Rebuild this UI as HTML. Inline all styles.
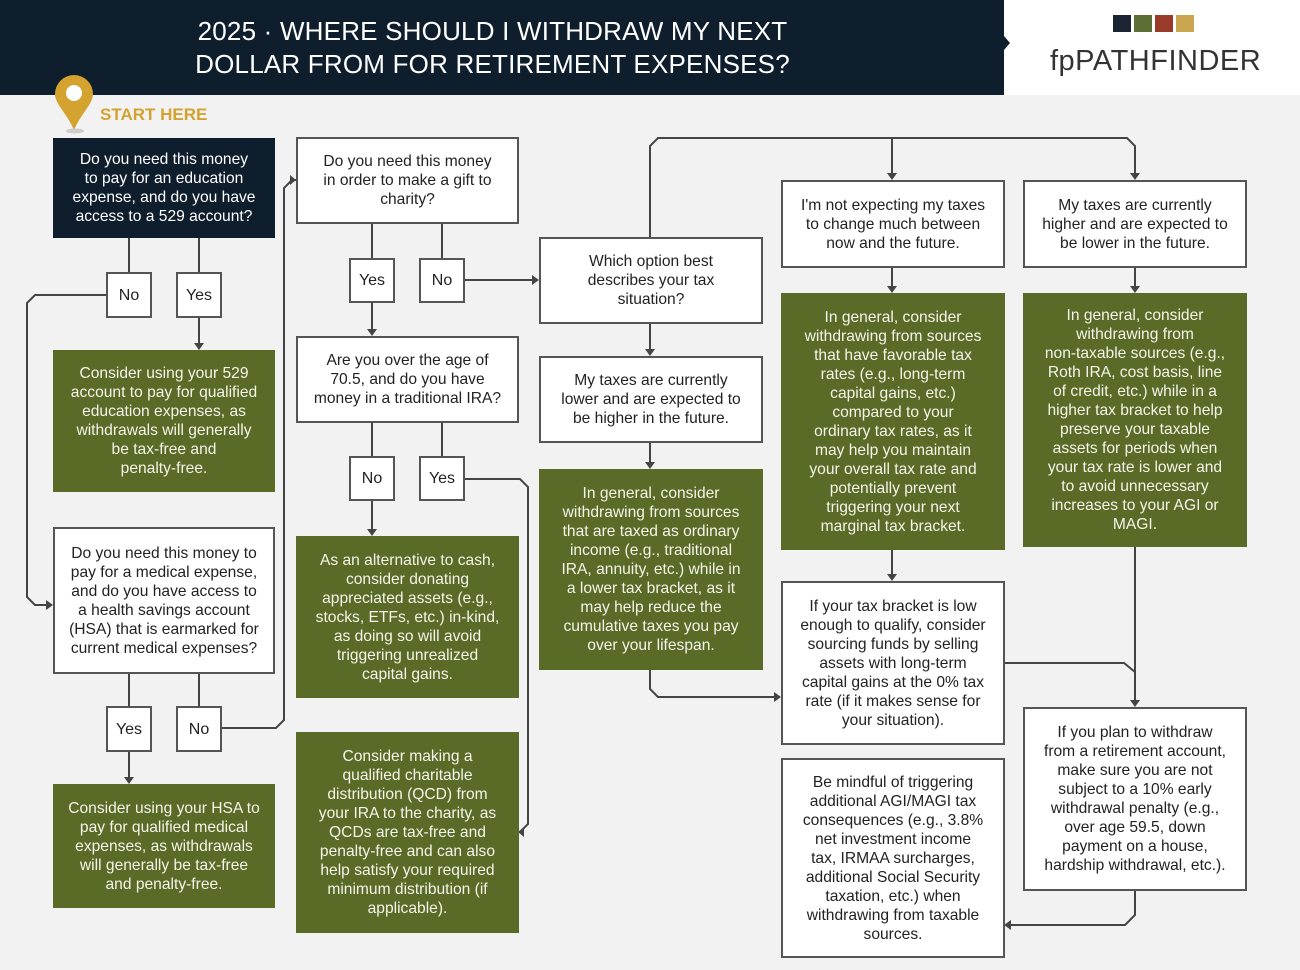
<!DOCTYPE html>
<html><head><meta charset="utf-8"><style>
*{margin:0;padding:0;box-sizing:border-box}
body{width:1300px;height:970px;background:#f2f2f2;position:relative;overflow:hidden;font-family:"Liberation Sans",sans-serif}
.hdr{position:absolute;left:0;top:0;width:1004px;height:95px;background:#0f1e2d}
.title{position:absolute;left:0;top:15px;width:985px;text-align:center;color:#fff;font-size:26px;line-height:33px;font-weight:300;letter-spacing:0.2px}
.logo{position:absolute;left:1004px;top:0;width:296px;height:95px;background:#fff}
.b{position:absolute;display:flex;align-items:center;justify-content:center;text-align:center;font-size:15.6px;line-height:19px;white-space:nowrap}
.w{background:#fff;border:2px solid #555;color:#222}
.g{background:#596b27;color:#f4f4ea}
.d{background:#0f1e2d;color:#fff}
.s{font-size:16px}
</style></head><body>
<div class="hdr"><div class="title">2025 · WHERE SHOULD I WITHDRAW MY NEXT<br>DOLLAR FROM FOR RETIREMENT EXPENSES?</div></div>
<div class="logo">
<div style="position:absolute;left:109px;top:15px;width:18px;height:17px;background:#1a2433"></div>
<div style="position:absolute;left:130px;top:15px;width:18px;height:17px;background:#5c7036"></div>
<div style="position:absolute;left:151px;top:15px;width:18px;height:17px;background:#9a3a2a"></div>
<div style="position:absolute;left:172px;top:15px;width:18px;height:17px;background:#c9a64f"></div>
<div style="position:absolute;left:46px;top:45px;font-size:29px;color:#333;font-weight:300;letter-spacing:0.5px">fpPATHFINDER</div>
</div>
<svg style="position:absolute;left:0;top:0" width="1300" height="970">
<polygon points="1004,36 1010,43 1004,50" fill="#0f1e2d"/>
<path d="M74,130 C66,112 55,104 55,94 A19,19 0 0 1 93,94 C93,104 82,112 74,130Z" fill="#d4a22e"/>
<circle cx="74" cy="93" r="8" fill="#fff"/>
<ellipse cx="75" cy="131" rx="9" ry="2.5" fill="#ccc"/>
<g stroke="#444" stroke-width="2" fill="none">
<path d="M129,238V272M199,238V272M106,295H35L27,303V597L35,605H48M199,317V345"/>
<path d="M129,673V706M199,673V706M129,751V779M221,728H276L284,720V188L292,180H296"/>
<path d="M372,223V258M442,223V258M372,302V331M465,280H534"/>
<path d="M372,422V456M442,422V456M372,500V531M465,479H520L528,487V824L520,832H523"/>
<path d="M650,237V146L658,138H1127L1135,146V175M892,138V175M650,323V351M650,442V464M650,669V689L658,697H776"/>
<path d="M892,267V288M892,549V576M1135,267V288M1135,546V702M1004,663H1124L1135,672"/>
<path d="M1135,890V915L1125,925H1009"/>
</g>
<g fill="#444">
<path d="M194,343L199,350L204,343Z"/>
<path d="M46,600L53,605L46,610Z"/>
<path d="M124,777L129,784L134,777Z"/>
<path d="M290,175L296,180L290,185Z"/>
<path d="M367,329L372,336L377,329Z"/>
<path d="M532,275L539,280L532,285Z"/>
<path d="M367,529L372,536L377,529Z"/>
<path d="M524,827L518,832L524,837Z"/>
<path d="M887,173L892,180L897,173Z"/>
<path d="M1130,173L1135,180L1140,173Z"/>
<path d="M645,349L650,356L655,349Z"/>
<path d="M645,462L650,469L655,462Z"/>
<path d="M774,692L781,697L774,702Z"/>
<path d="M887,286L892,293L897,286Z"/>
<path d="M887,574L892,581L897,574Z"/>
<path d="M1130,286L1135,293L1140,286Z"/>
<path d="M1130,700L1135,707L1140,700Z"/>
<path d="M1011,920L1004,925L1011,930Z"/>
</g>
</svg>
<div style="position:absolute;left:100px;top:105px;color:#d4a22e;font-weight:bold;font-size:17px">START HERE</div>

<div class="b d" style="left:53px;top:138px;width:222px;height:100px">Do you need this money<br>to pay for an education<br>expense, and do you have<br>access to a 529 account?</div>
<div class="b w s" style="left:106px;top:272px;width:46px;height:46px">No</div>
<div class="b w s" style="left:176px;top:272px;width:46px;height:46px">Yes</div>
<div class="b g" style="left:53px;top:350px;width:222px;height:142px">Consider using your 529<br>account to pay for qualified<br>education expenses, as<br>withdrawals will generally<br>be tax-free and<br>penalty-free.</div>
<div class="b w" style="left:53px;top:527px;width:222px;height:147px">Do you need this money to<br>pay for a medical expense,<br>and do you have access to<br>a health savings account<br>(HSA) that is earmarked for<br>current medical expenses?</div>
<div class="b w s" style="left:106px;top:706px;width:46px;height:46px">Yes</div>
<div class="b w s" style="left:176px;top:706px;width:46px;height:46px">No</div>
<div class="b g" style="left:53px;top:784px;width:222px;height:124px">Consider using your HSA to<br>pay for qualified medical<br>expenses, as withdrawals<br>will generally be tax-free<br>and penalty-free.</div>

<div class="b w" style="left:296px;top:137px;width:223px;height:87px">Do you need this money<br>in order to make a gift to<br>charity?</div>
<div class="b w s" style="left:349px;top:258px;width:46px;height:45px">Yes</div>
<div class="b w s" style="left:419px;top:258px;width:46px;height:45px">No</div>
<div class="b w" style="left:296px;top:336px;width:223px;height:87px">Are you over the age of<br>70.5, and do you have<br>money in a traditional IRA?</div>
<div class="b w s" style="left:349px;top:456px;width:46px;height:45px">No</div>
<div class="b w s" style="left:419px;top:456px;width:46px;height:45px">Yes</div>
<div class="b g" style="left:296px;top:536px;width:223px;height:162px">As an alternative to cash,<br>consider donating<br>appreciated assets (e.g.,<br>stocks, ETFs, etc.) in-kind,<br>as doing so will avoid<br>triggering unrealized<br>capital gains.</div>
<div class="b g" style="left:296px;top:732px;width:223px;height:201px">Consider making a<br>qualified charitable<br>distribution (QCD) from<br>your IRA to the charity, as<br>QCDs are tax-free and<br>penalty-free and can also<br>help satisfy your required<br>minimum distribution (if<br>applicable).</div>

<div class="b w" style="left:539px;top:237px;width:224px;height:87px">Which option best<br>describes your tax<br>situation?</div>
<div class="b w" style="left:539px;top:356px;width:224px;height:87px">My taxes are currently<br>lower and are expected to<br>be higher in the future.</div>
<div class="b g" style="left:539px;top:469px;width:224px;height:201px">In general, consider<br>withdrawing from sources<br>that are taxed as ordinary<br>income (e.g., traditional<br>IRA, annuity, etc.) while in<br>a lower tax bracket, as it<br>may help reduce the<br>cumulative taxes you pay<br>over your lifespan.</div>

<div class="b w" style="left:781px;top:180px;width:224px;height:88px">I'm not expecting my taxes<br>to change much between<br>now and the future.</div>
<div class="b g" style="left:781px;top:293px;width:224px;height:257px">In general, consider<br>withdrawing from sources<br>that have favorable tax<br>rates (e.g., long-term<br>capital gains, etc.)<br>compared to your<br>ordinary tax rates, as it<br>may help you maintain<br>your overall tax rate and<br>potentially prevent<br>triggering your next<br>marginal tax bracket.</div>
<div class="b w" style="left:781px;top:581px;width:224px;height:164px">If your tax bracket is low<br>enough to qualify, consider<br>sourcing funds by selling<br>assets with long-term<br>capital gains at the 0% tax<br>rate (if it makes sense for<br>your situation).</div>
<div class="b w" style="left:781px;top:758px;width:224px;height:200px">Be mindful of triggering<br>additional AGI/MAGI tax<br>consequences (e.g., 3.8%<br>net investment income<br>tax, IRMAA surcharges,<br>additional Social Security<br>taxation, etc.) when<br>withdrawing from taxable<br>sources.</div>

<div class="b w" style="left:1023px;top:180px;width:224px;height:88px">My taxes are currently<br>higher and are expected to<br>be lower in the future.</div>
<div class="b g" style="left:1023px;top:293px;width:224px;height:254px">In general, consider<br>withdrawing from<br>non-taxable sources (e.g.,<br>Roth IRA, cost basis, line<br>of credit, etc.) while in a<br>higher tax bracket to help<br>preserve your taxable<br>assets for periods when<br>your tax rate is lower and<br>to avoid unnecessary<br>increases to your AGI or<br>MAGI.</div>
<div class="b w" style="left:1023px;top:707px;width:224px;height:184px">If you plan to withdraw<br>from a retirement account,<br>make sure you are not<br>subject to a 10% early<br>withdrawal penalty (e.g.,<br>over age 59.5, down<br>payment on a house,<br>hardship withdrawal, etc.).</div>
</body></html>
